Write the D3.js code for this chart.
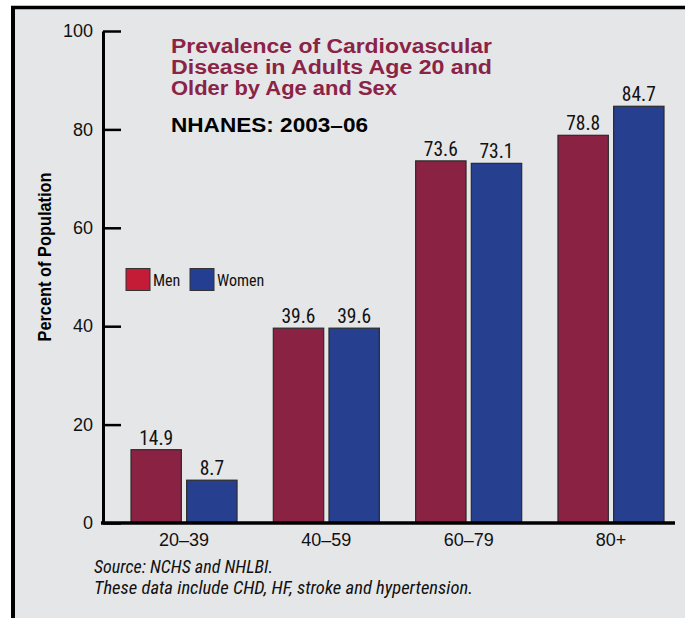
<!DOCTYPE html>
<html>
<head>
<meta charset="utf-8">
<script src="https://cdn.jsdelivr.net/npm/d3@7"></script>
<style>
  html, body { margin: 0; padding: 0; background: #ffffff; }
  svg { display: block; }
</style>
</head>
<body>
<svg id="chart" width="685" height="618"></svg>
<script>
// ---- Data ----
const categories = ["20\u201339", "40\u201359", "60\u201379", "80+"];
const series = ["Men", "Women"];
const menValues = [14.9, 39.6, 73.6, 78.8];
const womenValues = [8.7, 39.6, 73.1, 84.7];
const valueLabels = [["14.9", "8.7"], ["39.6", "39.6"], ["73.6", "73.1"], ["78.8", "84.7"]];
const yTicks = [0, 20, 40, 60, 80, 100];
const titleLines = ["Prevalence of Cardiovascular", "Disease in Adults Age 20 and", "Older by Age and Sex"];
const subtitle = "NHANES: 2003\u201306";
const yLabel = "Percent of Population";
const notes = ["Source: NCHS and NHLBI.", "These data include CHD, HF, stroke and hypertension."];

const barColors = { Men: "#8a2244", Women: "#263f8e" };
const legendColors = { Men: "#c41c36", Women: "#243f92" };

const svg = d3.select("#chart");
const NARROW = '"Liberation Sans Narrow", "Arial Narrow", "Roboto Condensed", "Liberation Sans", sans-serif';
const REG = '"Liberation Sans", Arial, Helvetica, sans-serif';

// frame & background
svg.append("rect").attr("x", 0).attr("y", 0).attr("width", 685).attr("height", 618).attr("fill", "#ffffff");
svg.append("rect").attr("x", 13).attr("y", 8).attr("width", 672).attr("height", 610).attr("fill", "#e5e6e8");
svg.append("line").attr("x1", 11).attr("x2", 685).attr("y1", 7.5).attr("y2", 7.5).attr("stroke", "#000").attr("stroke-width", 3.5);
svg.append("line").attr("x1", 13).attr("x2", 13).attr("y1", 6).attr("y2", 618).attr("stroke", "#000").attr("stroke-width", 4);

// scales
const y = d3.scaleLinear().domain([0, 100]).range([523, 31]);
const x0 = d3.scaleBand().domain(categories).range([131, 664]).paddingInner(0.255).paddingOuter(0);
const x1 = d3.scaleBand().domain(series).range([0, x0.bandwidth()]).paddingInner(0.095);

const rows = categories.map((c, i) => ({ cat: c, values: [
  { s: "Men", v: menValues[i], label: valueLabels[i][0] },
  { s: "Women", v: womenValues[i], label: valueLabels[i][1] }
]}));

// bars
const g = svg.append("g");
const groups = g.selectAll("g.grp").data(rows).join("g")
  .attr("class", "grp")
  .attr("transform", d => `translate(${x0(d.cat)},0)`);

groups.selectAll("rect").data(d => d.values).join("rect")
  .attr("x", d => x1(d.s))
  .attr("y", d => y(d.v))
  .attr("width", x1.bandwidth())
  .attr("height", d => y(0) - y(d.v))
  .attr("fill", d => barColors[d.s])
  .attr("stroke", "#2b2b2b")
  .attr("stroke-width", 1.2);

groups.selectAll("text").data(d => d.values).join("text")
  .attr("x", d => x1(d.s) + x1.bandwidth() / 2)
  .attr("y", d => y(d.v) - 5)
  .attr("text-anchor", "middle")
  .style("font-family", NARROW)
  .style("font-size", "19.5px")
  .attr("fill", "#111")
  .text(d => d.label);

// y axis
const yAxis = d3.axisLeft(y).tickValues(yTicks).tickSizeInner(-18).tickSizeOuter(0).tickPadding(10);
const ya = svg.append("g").attr("transform", "translate(103,0)").call(yAxis);
ya.select(".domain").attr("stroke", "#000").attr("stroke-width", 3);
ya.selectAll(".tick line").attr("stroke", "#000").attr("stroke-width", 2.5);
ya.selectAll(".tick text").style("font-family", REG).style("font-size", "18px").attr("fill", "#111");

// x axis
const xAxis = d3.axisBottom(x0).tickSize(0).tickPadding(0);
const xa = svg.append("g").attr("transform", "translate(0,523)").call(xAxis);
xa.select(".domain").remove();
xa.selectAll(".tick text").attr("y", 23).attr("dy", null)
  .style("font-family", REG).style("font-size", "18px").attr("fill", "#111");
svg.append("line").attr("x1", 101).attr("x2", 675).attr("y1", y(0)).attr("y2", y(0))
  .attr("stroke", "#000").attr("stroke-width", 3.5);

// y label
svg.append("text")
  .attr("transform", "translate(51,257) rotate(-90)")
  .attr("text-anchor", "middle")
  .style("font-family", REG).style("font-size", "18px").style("font-weight", "bold")
  .attr("fill", "#000")
  .attr("textLength", 169).attr("lengthAdjust", "spacingAndGlyphs")
  .text(yLabel);

// title (one multi-line text)
const titleWidths = [321, 321, 226];
const titleBase = [53, 74, 94.5];
const title = svg.append("text")
  .style("font-family", REG).style("font-size", "20px").style("font-weight", "bold")
  .attr("fill", "#8b2346");
titleLines.forEach((t, i) => {
  title.append("tspan").attr("x", 171).attr("y", titleBase[i])
    .attr("textLength", titleWidths[i]).attr("lengthAdjust", "spacingAndGlyphs")
    .text(t);
});
svg.append("text").attr("x", 171).attr("y", 131.5)
  .style("font-family", REG).style("font-size", "21px").style("font-weight", "bold")
  .attr("fill", "#000")
  .attr("textLength", 197).attr("lengthAdjust", "spacingAndGlyphs")
  .text(subtitle);

// legend
const legendX = { Men: 126, Women: 190 };
const lg = svg.append("g");
series.forEach(s => {
  lg.append("rect").attr("x", legendX[s]).attr("y", 268.5).attr("width", 24).attr("height", 22)
    .attr("fill", legendColors[s]).attr("stroke", "#333").attr("stroke-width", 1);
  lg.append("text").attr("x", legendX[s] + 27).attr("y", 285.5)
    .style("font-family", NARROW).style("font-size", "16px").attr("fill", "#111").text(s);
});

// notes
const noteBase = [573, 594];
const noteWidths = [179, 379];
notes.forEach((t, i) => {
  svg.append("text").attr("x", 94).attr("y", noteBase[i])
    .style("font-family", NARROW).style("font-size", "18px").style("font-style", "italic")
    .attr("fill", "#111")
    .attr("textLength", noteWidths[i]).attr("lengthAdjust", "spacingAndGlyphs")
    .text(t);
});
</script>
</body>
</html>
